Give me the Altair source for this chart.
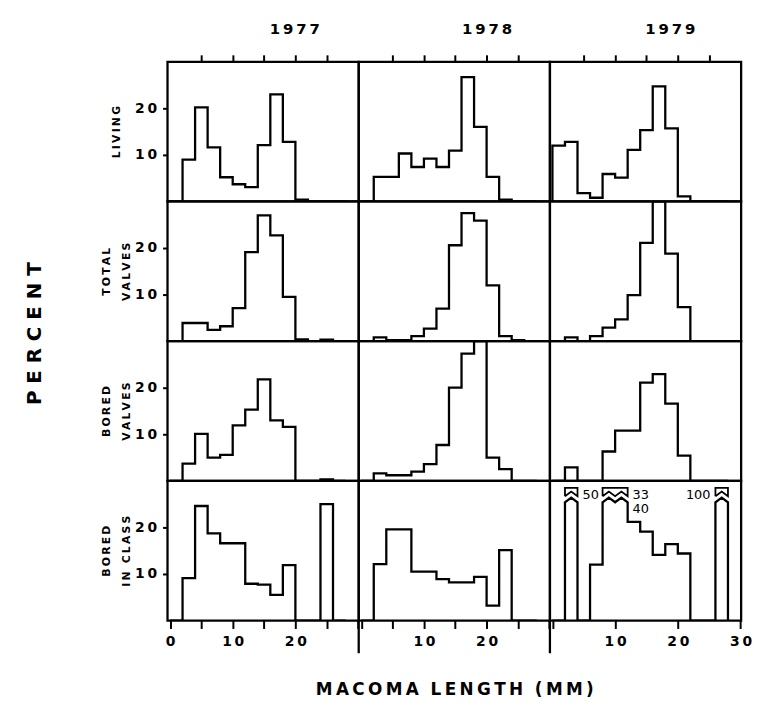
import altair as alt
import pandas as pd

# ---------------- data (percent per 2-mm length class) ----------------
YEARS = ["1977", "1978", "1979"]
ROW_LABELS = [["LIVING"], ["TOTAL", "VALVES"], ["BORED", "VALVES"], ["BORED", "IN CLASS"]]
BIN_LO = [0, 2, 4, 6, 8, 10, 12, 14, 16, 18, 20, 22, 24, 26]
BIN_WIDTH = 2

living_1977 = [0, 9, 20.2, 11.6, 5.2, 3.7, 3.1, 12.1, 23, 12.8, 0.4, 0, 0, 0]
living_1978 = [0, 5.3, 5.3, 10.3, 7.4, 9.2, 7.4, 10.9, 26.7, 16, 5.3, 0.4, 0, 0]
living_1979 = [12, 12.8, 1.8, 0.8, 5.9, 5.1, 11.1, 15.3, 24.7, 15.7, 1.1, 0, 0, 0]

total_1977 = [0, 3.9, 3.9, 2.4, 3.2, 7.1, 19.1, 27, 22.7, 9.5, 0.4, 0, 0.3, 0]
total_1978 = [0, 0.8, 0.2, 0.2, 1.1, 2.7, 7, 20.6, 27.5, 25.9, 12, 1.1, 0.2, 0]
total_1979 = [0, 0.8, 0, 1.1, 2.9, 4.7, 9.9, 21.1, 30, 18.8, 7.3, 0, 0, 0]

bored_1977 = [0, 3.7, 10.1, 5, 5.6, 11.9, 15.3, 21.8, 13, 11.6, 0, 0, 0.3, 0]
bored_1978 = [0, 1.6, 1.2, 1.2, 2, 3.6, 7.7, 20, 27.3, 30, 5, 2.5, 0, 0]
bored_1979 = [0, 2.9, 0, 0, 6.3, 10.8, 10.8, 21.1, 22.9, 16.6, 5.4, 0, 0, 0]

inclass_1977 = [0, 9.1, 24.6, 18.7, 16.6, 16.6, 7.9, 7.7, 5.5, 11.9, 0, 0, 25, 0]
inclass_1978 = [0, 12.1, 19.6, 19.6, 10.5, 10.5, 8.9, 8.2, 8.2, 9.4, 3.2, 15.1, 0, 0]
inclass_1979 = [0, 50, 0, 12, 33, 40, 21.2, 19.1, 14.1, 16.4, 14.4, 0, 0, 100]

SERIES = [
    [living_1977, living_1978, living_1979],
    [total_1977, total_1978, total_1979],
    [bored_1977, bored_1978, bored_1979],
    [inclass_1977, inclass_1978, inclass_1979],
]

# ---------------- layout / style constants ----------------
W, H = 193, 141
X_DOMAIN = [-0.4, 30.1]
Y_MAX = 30
BRK = 25.4      # where an off-scale bar is broken
CHEV = 1.0      # height of the break chevron
CAP_LO = 26.7
CAP_TOP = 28.5
LABEL_STEP = 3.0
FONT = "DejaVu Sans"
LW = 2.3
YEAR_TITLE_X = [128, 129, 121]
BOTTOM_LABELS = [(0, 20), (10, 20), (10, 30)]
TITLE_PAD = [13, 3, 3, 3]


def spaced(s, sep="\u2009"):
    return sep.join(s)


def outline_df(vals):
    pts = [(BIN_LO[0], 0.0)]
    for lo, v in zip(BIN_LO, vals):
        hi = lo + BIN_WIDTH
        if v > Y_MAX:
            pts += [(lo, BRK), (lo + BIN_WIDTH / 2, BRK + CHEV), (hi, BRK)]
        else:
            pts += [(lo, v), (hi, v)]
    pts.append((BIN_LO[-1] + BIN_WIDTH, 0.0))
    return pd.DataFrame({"x": [p[0] for p in pts], "y": [p[1] for p in pts],
                         "o": list(range(len(pts)))})


def runs_of_offscale(vals):
    runs, cur = [], []
    for i, v in enumerate(vals):
        if v > Y_MAX:
            cur.append(i)
        elif cur:
            runs.append(cur)
            cur = []
    if cur:
        runs.append(cur)
    return runs


def caps_and_labels(vals):
    cap_rows, lab_right, lab_left = [], [], []
    for r, run in enumerate(runs_of_offscale(vals)):
        lo0 = BIN_LO[run[0]]
        hi_last = BIN_LO[run[-1]] + BIN_WIDTH
        pts = [(lo0, CAP_LO)]
        for i in run:
            lo = BIN_LO[i]
            pts += [(lo + BIN_WIDTH / 2, CAP_LO + CHEV), (lo + BIN_WIDTH, CAP_LO)]
        pts += [(hi_last, CAP_TOP), (lo0, CAP_TOP), (lo0, CAP_LO)]
        for k, (x, y) in enumerate(pts):
            cap_rows.append({"x": x, "y": y, "o": k, "run": r})
        for j, i in enumerate(run):
            row = {"y": CAP_LO + 0.3 - j * LABEL_STEP, "t": str(int(round(vals[i])))}
            if hi_last > 24:
                row["x"] = lo0
                lab_left.append(row)
            else:
                row["x"] = hi_last
                lab_right.append(row)
    return pd.DataFrame(cap_rows), pd.DataFrame(lab_right), pd.DataFrame(lab_left)


def x_axis(row, col):
    if row == 0:
        return alt.Axis(orient="top", values=[5, 10, 15, 20, 25], labels=False,
                        domain=False, grid=False, ticks=True, tickSize=7,
                        tickWidth=2, tickColor="black",
                        title=spaced(YEARS[col]), titleFont=FONT, titleFontSize=15,
                        titleFontWeight="bold", titleColor="black",
                        titleX=YEAR_TITLE_X[col], titleY=-34,
                        titleBaseline="middle", titleAlign="center")
    if row == 3:
        lo, hi = BOTTOM_LABELS[col]
        expr = (f"(datum.value % 10 == 0 && datum.value >= {lo} && datum.value <= {hi})"
                " ? join(split(datum.label, ''), '\u2009') : ''")
        kw = dict(orient="bottom", values=[0, 5, 10, 15, 20, 25, 30],
                  labelExpr=expr, domain=False, grid=False, tickSize=8,
                  tickWidth=2, tickColor="black", labelFont=FONT,
                  labelFontSize=14, labelFontWeight="bold", labelColor="black",
                  labelPadding=6, labelFlush=False, labelOverlap=False)
        if col == 1:
            kw.update(title="\u2002\u2009".join(spaced(w) for w in ["MACOMA", "LENGTH", "(MM)"]),
                      titleFont=FONT, titleFontSize=17, titleFontWeight="bold",
                      titleColor="black", titlePadding=34)
        else:
            kw.update(title=None)
        return alt.Axis(**kw)
    return None


def y_axis(row, col):
    if col != 0:
        return None
    return alt.Axis(orient="left", values=[10, 20], domain=False, grid=False,
                    tickSize=5, tickWidth=2, tickColor="black",
                    labelExpr="join(split(datum.label, ''), '\u2009')",
                    labelFont=FONT, labelFontSize=14, labelFontWeight="bold",
                    labelColor="black", labelPadding=6,
                    title=[spaced(s) for s in ROW_LABELS[row]],
                    titleFont=FONT, titleFontSize=11, titleFontWeight="bold",
                    titleColor="black", titleLineHeight=20,
                    titlePadding=TITLE_PAD[row])


def panel(row, col):
    vals = SERIES[row][col]
    xs = alt.Scale(domain=X_DOMAIN, nice=False, zero=False)
    ys = alt.Scale(domain=[0, Y_MAX], nice=False)
    line = alt.Chart(outline_df(vals)).mark_line(
        color="black", strokeWidth=LW, clip=True, strokeJoin="miter"
    ).encode(
        x=alt.X("x:Q", scale=xs, axis=x_axis(row, col)),
        y=alt.Y("y:Q", scale=ys, axis=y_axis(row, col)),
        order="o:Q",
    )
    layers = [line]
    caps, lab_r, lab_l = caps_and_labels(vals)
    if len(caps):
        layers.append(alt.Chart(caps).mark_line(color="black", strokeWidth=LW - 0.5,
                                                 strokeJoin="miter").encode(
            x="x:Q", y="y:Q", detail="run:N", order="o:Q"))
    for df, align, dx in [(lab_r, "left", 5), (lab_l, "right", -5)]:
        if len(df):
            layers.append(alt.Chart(df).mark_text(
                align=align, dx=dx, baseline="middle",
                font=FONT, fontSize=13, color="black"
            ).encode(x="x:Q", y="y:Q", text="t:N"))
    if row == 3 and col > 0:
        layers.append(alt.Chart(pd.DataFrame({"k": [0]})).mark_rule(
            color="black", strokeWidth=LW, clip=False
        ).encode(x=alt.value(0), y=alt.value(H), y2=alt.value(H + 33)))
    return alt.layer(*layers).properties(width=W, height=H)


panels = [panel(r, c) for r in range(4) for c in range(3)]

chart = alt.concat(*panels, columns=3, spacing=0, align="each", bounds="flush").properties(
    title=alt.TitleParams(" ".join("PERCENT"), orient="left", anchor="middle",
                          font=FONT, fontSize=20, fontWeight="bold",
                          color="black", offset=55, dx=26),
    padding={"left": 17, "top": 8, "right": 2, "bottom": 5},
    background="white",
).configure_view(
    stroke="black", strokeWidth=LW
).configure_concat(spacing=0)

chart.save("out.html", embed_options={"renderer": "svg", "actions": False})
